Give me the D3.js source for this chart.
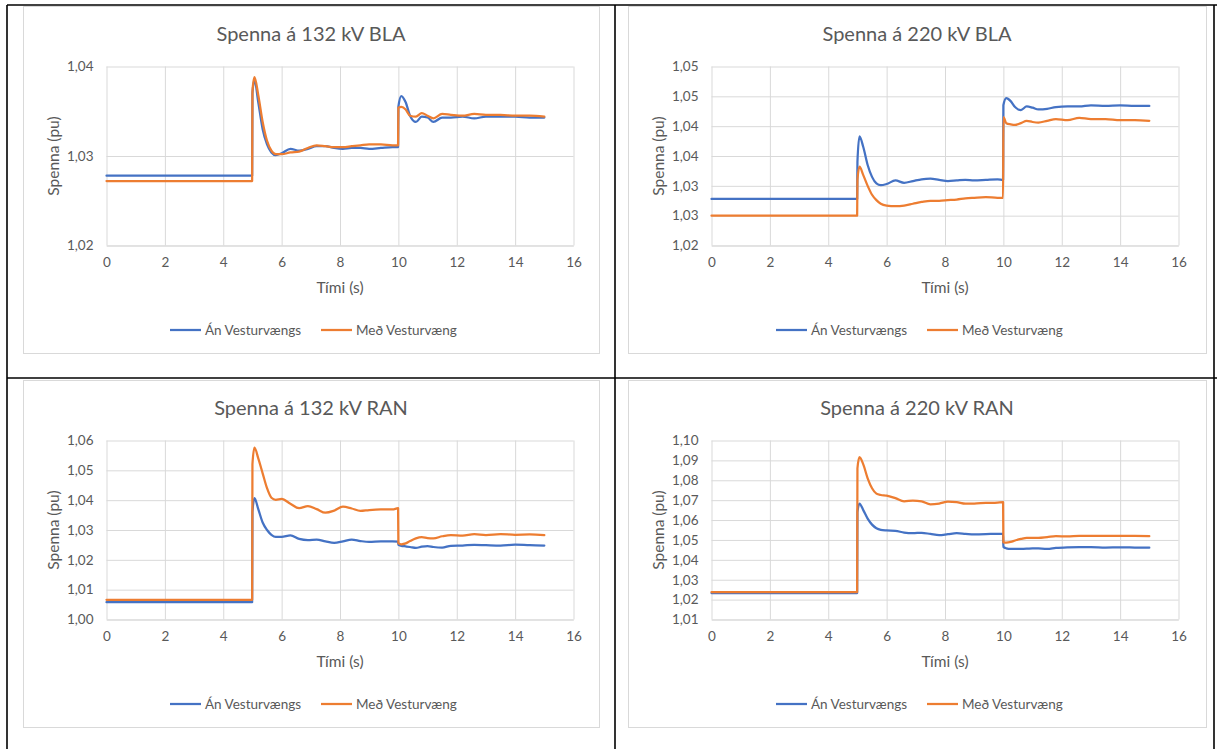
<!DOCTYPE html>
<html>
<head>
<meta charset="utf-8">
<script src="https://cdn.jsdelivr.net/npm/d3@7"></script>
<style>
  html, body { margin: 0; padding: 0; background: #fff; }
  svg { display: block; }
  text { font-family: Lato, "Open Sans", sans-serif; fill: #595959; }
</style>
</head>
<body>
<svg id="chart" width="1217" height="749"></svg>
<script>
// ---------- DATA ----------
const timeSec = [0, 4.99, 5.0, 5.07, 5.2, 5.35, 5.5, 5.65, 5.8, 6.0, 6.3, 6.6, 6.9, 7.2, 7.5, 7.8, 8.1, 8.4, 8.7, 9.0, 9.4, 9.8, 9.99, 10.0, 10.1, 10.25, 10.4, 10.6, 10.8, 11.0, 11.2, 11.5, 11.8, 12.2, 12.6, 13.0, 13.5, 14.0, 14.5, 15.0];

const seriesNames = ["Án Vesturvængs", "Með Vesturvæng"];
const chartTitles = ["Spenna á 132 kV BLA", "Spenna á 220 kV BLA", "Spenna á 132 kV RAN", "Spenna á 220 kV RAN"];
const xTicks = [0, 2, 4, 6, 8, 10, 12, 14, 16];
const xTitle = "Tími (s)";
const yTitle = "Spenna (pu)";

// 132 kV BLA
const bla132Ticks = [1.02, 1.03, 1.04];
const bla132Labels = ["1,02", "1,03", "1,04"];
const bla132An = [1.0278, 1.0278, 1.0370, 1.0385, 1.0360, 1.0330, 1.0313, 1.0304, 1.0301, 1.0303, 1.0308, 1.0306, 1.0308, 1.0311, 1.0311, 1.0309, 1.0308, 1.0309, 1.0309, 1.0308, 1.0309, 1.0310, 1.0310, 1.0355, 1.0367, 1.0360, 1.0345, 1.0338, 1.0344, 1.0343, 1.0338, 1.0343, 1.0343, 1.0344, 1.0342, 1.0344, 1.0344, 1.0344, 1.0343, 1.0343];
const bla132Med = [1.0272, 1.0272, 1.0372, 1.0388, 1.0368, 1.0338, 1.0317, 1.0306, 1.0302, 1.0302, 1.0304, 1.0305, 1.0309, 1.0312, 1.0311, 1.0310, 1.0310, 1.0311, 1.0312, 1.0313, 1.0313, 1.0312, 1.0312, 1.0354, 1.0355, 1.0352, 1.0345, 1.0344, 1.0348, 1.0345, 1.0342, 1.0347, 1.0346, 1.0345, 1.0347, 1.0346, 1.0346, 1.0345, 1.0345, 1.0344];

// 220 kV BLA
const bla220Ticks = [1.02, 1.025, 1.03, 1.035, 1.04, 1.045, 1.05];
const bla220Labels = ["1,02", "1,03", "1,03", "1,04", "1,04", "1,05", "1,05"];
const bla220An = [1.0278, 1.0278, 1.0340, 1.0383, 1.0365, 1.0335, 1.0315, 1.0304, 1.0301, 1.0303, 1.0309, 1.0305, 1.0308, 1.0311, 1.0312, 1.0310, 1.0308, 1.0309, 1.0310, 1.0309, 1.0310, 1.0311, 1.0310, 1.0435, 1.0447, 1.0442, 1.0432, 1.0427, 1.0433, 1.0431, 1.0428, 1.0429, 1.0432, 1.0433, 1.0433, 1.0435, 1.0434, 1.0435, 1.0434, 1.0434];
const bla220Med = [1.0250, 1.0250, 1.0310, 1.0332, 1.0318, 1.0300, 1.0285, 1.0276, 1.0270, 1.0267, 1.0266, 1.0267, 1.0270, 1.0273, 1.0275, 1.0275, 1.0276, 1.0277, 1.0279, 1.0280, 1.0281, 1.0280, 1.0280, 1.0415, 1.0405, 1.0403, 1.0402, 1.0405, 1.0409, 1.0407, 1.0406, 1.0409, 1.0412, 1.0410, 1.0414, 1.0412, 1.0412, 1.0410, 1.0410, 1.0409];

// 132 kV RAN
const ran132Ticks = [1.00, 1.01, 1.02, 1.03, 1.04, 1.05, 1.06];
const ran132Labels = ["1,00", "1,01", "1,02", "1,03", "1,04", "1,05", "1,06"];
const ran132An = [1.0058, 1.0058, 1.0360, 1.0407, 1.0370, 1.0325, 1.0300, 1.0284, 1.0277, 1.0277, 1.0282, 1.0270, 1.0266, 1.0268, 1.0262, 1.0257, 1.0262, 1.0268, 1.0263, 1.0260, 1.0262, 1.0262, 1.0261, 1.0250, 1.0247, 1.0245, 1.0243, 1.0240, 1.0244, 1.0246, 1.0243, 1.0241, 1.0247, 1.0248, 1.0250, 1.0249, 1.0248, 1.0251, 1.0249, 1.0248];
const ran132Med = [1.0066, 1.0066, 1.0520, 1.0576, 1.0540, 1.0490, 1.0440, 1.0408, 1.0401, 1.0404, 1.0388, 1.0373, 1.0380, 1.0370, 1.0358, 1.0365, 1.0378, 1.0372, 1.0364, 1.0367, 1.0369, 1.0369, 1.0373, 1.0256, 1.0252, 1.0255, 1.0263, 1.0272, 1.0276, 1.0273, 1.0272, 1.0279, 1.0283, 1.0281, 1.0286, 1.0283, 1.0286, 1.0284, 1.0285, 1.0283];

// 220 kV RAN
const ran220Ticks = [1.01, 1.02, 1.03, 1.04, 1.05, 1.06, 1.07, 1.08, 1.09, 1.10];
const ran220Labels = ["1,01", "1,02", "1,03", "1,04", "1,05", "1,06", "1,07", "1,08", "1,09", "1,10"];
const ran220An = [1.0233, 1.0233, 1.0640, 1.0683, 1.0650, 1.0607, 1.0577, 1.0559, 1.0551, 1.0548, 1.0546, 1.0537, 1.0534, 1.0536, 1.0530, 1.0524, 1.0529, 1.0534, 1.0531, 1.0528, 1.0529, 1.0531, 1.0531, 1.0465, 1.0458, 1.0455, 1.0455, 1.0455, 1.0456, 1.0458, 1.0457, 1.0455, 1.0460, 1.0463, 1.0464, 1.0464, 1.0462, 1.0463, 1.0462, 1.0461];
const ran220Med = [1.0238, 1.0238, 1.0860, 1.0916, 1.0880, 1.0810, 1.0760, 1.0733, 1.0726, 1.0723, 1.0710, 1.0694, 1.0698, 1.0694, 1.0679, 1.0683, 1.0693, 1.0690, 1.0682, 1.0683, 1.0686, 1.0688, 1.0690, 1.0488, 1.0487, 1.0490, 1.0497, 1.0505, 1.0511, 1.0511, 1.0510, 1.0514, 1.0519, 1.0518, 1.0521, 1.0520, 1.0521, 1.0521, 1.0520, 1.0519];

const seriesColors = ["#4472C4", "#ED7D31"];

// ---------- LAYOUT ----------
const svg = d3.select("#chart");

const charts = [
  { frame: [23, 6, 576, 347],  title: chartTitles[0], ticks: bla132Ticks, labels: bla132Labels, series: [bla132An, bla132Med] },
  { frame: [628, 6, 578, 347], title: chartTitles[1], ticks: bla220Ticks, labels: bla220Labels, series: [bla220An, bla220Med] },
  { frame: [23, 380, 576, 347], title: chartTitles[2], ticks: ran132Ticks, labels: ran132Labels, series: [ran132An, ran132Med] },
  { frame: [628, 380, 578, 347], title: chartTitles[3], ticks: ran220Ticks, labels: ran220Labels, series: [ran220An, ran220Med] }
];

charts.forEach(c => {
  const [fx, fy, fw, fh] = c.frame;
  const g = svg.append("g");
  g.append("rect").attr("x", fx + 0.5).attr("y", fy + 0.5).attr("width", fw).attr("height", fh)
    .attr("fill", "#fff").attr("stroke", "#D9D9D9").attr("stroke-width", 1);

  const left = fx + 83.5, right = fx + 550.5, top = fy + 60.5, bottom = fy + 239.5;
  const x = d3.scaleLinear().domain([0, 16]).range([left, right]);
  const y = d3.scaleLinear().domain([c.ticks[0], c.ticks[c.ticks.length - 1]]).range([bottom, top]);

  // horizontal gridlines + y labels
  const yAxis = d3.axisLeft(y).tickValues(c.ticks).tickFormat((d, i) => c.labels[i])
    .tickSizeInner(-(right - left)).tickSizeOuter(0).tickPadding(13);
  const yg = g.append("g").attr("transform", `translate(${left},0)`).call(yAxis);
  yg.select(".domain").remove();
  yg.selectAll(".tick line").attr("stroke", "#D9D9D9").attr("stroke-width", 1);
  yg.selectAll(".tick text").attr("font-size", 13.5).attr("fill", "#595959")
    .style("font-family", "Lato, sans-serif");

  // vertical gridlines + x labels
  const xAxis = d3.axisBottom(x).tickValues(xTicks).tickFormat(d3.format("d"))
    .tickSizeInner(-(bottom - top)).tickSizeOuter(0).tickPadding(12);
  const xg = g.append("g").attr("transform", `translate(0,${bottom})`).call(xAxis);
  xg.select(".domain").attr("stroke", "#D9D9D9");
  xg.selectAll(".tick line").attr("stroke", "#D9D9D9").attr("stroke-width", 1);
  xg.selectAll(".tick text").attr("font-size", 13.5).attr("fill", "#595959")
    .style("font-family", "Lato, sans-serif");

  // title
  g.append("text").attr("x", fx + fw / 2).attr("y", fy + 27).attr("text-anchor", "middle")
    .attr("dominant-baseline", "central").attr("font-size", 20).text(c.title);
  // axis titles
  g.append("text").attr("x", (left + right) / 2).attr("y", fy + 281).attr("text-anchor", "middle")
    .attr("dominant-baseline", "central").attr("font-size", 15.5).text(xTitle);
  g.append("text").attr("transform", `translate(${fx + 30},${(top + bottom) / 2}) rotate(-90)`)
    .attr("text-anchor", "middle").attr("dominant-baseline", "central").attr("font-size", 15.5).text(yTitle);

  // lines
  const line = d3.line().x(d => x(d[0])).y(d => y(d[1])).curve(d3.curveMonotoneX);
  c.series.forEach((vals, i) => {
    const pts = timeSec.map((t, k) => [t, vals[k]]);
    g.append("path").datum(pts).attr("d", line).attr("fill", "none")
      .attr("stroke", seriesColors[i]).attr("stroke-width", 2.25)
      .attr("stroke-linejoin", "round").attr("stroke-linecap", "round");
  });

  // legend
  const cx = fx + fw / 2;
  const ly = fy + 324;
  const legendStarts = [cx - 141, cx + 10];
  seriesNames.forEach((n, i) => {
    const sx = legendStarts[i];
    g.append("line").attr("x1", sx).attr("x2", sx + 31).attr("y1", ly).attr("y2", ly)
      .attr("stroke", seriesColors[i]).attr("stroke-width", 2.25);
    g.append("text").attr("x", sx + 35).attr("y", ly).attr("dominant-baseline", "central")
      .attr("font-size", 13.5).text(n);
  });
});

// table borders
const border = svg.append("g").attr("stroke", "#000").attr("stroke-width", 1.6).attr("fill", "none");
border.append("line").attr("x1", 7).attr("x2", 1217).attr("y1", 5).attr("y2", 5);
border.append("line").attr("x1", 7).attr("x2", 1217).attr("y1", 378).attr("y2", 378);
border.append("line").attr("x1", 7).attr("x2", 7).attr("y1", 5).attr("y2", 749);
border.append("line").attr("x1", 615).attr("x2", 615).attr("y1", 5).attr("y2", 749);
border.append("line").attr("x1", 1214).attr("x2", 1214).attr("y1", 5).attr("y2", 749);
</script>
</body>
</html>
